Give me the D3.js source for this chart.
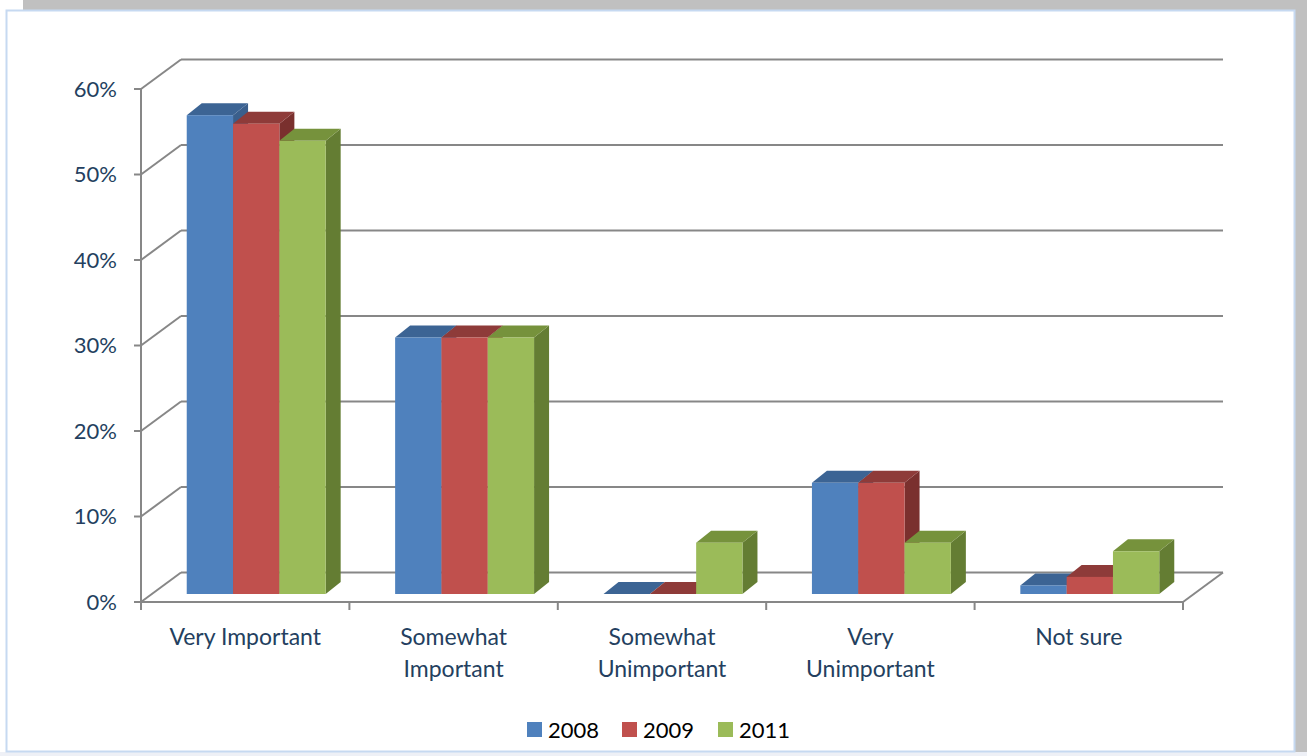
<!DOCTYPE html>
<html><head><meta charset="utf-8">
<script src="https://cdn.jsdelivr.net/npm/d3@7"></script>
<style>html,body{margin:0;padding:0;background:#fff;}svg{display:block;}</style>
</head><body>
<svg id="c" width="1307" height="756"></svg>
<script>
const categories = [["Very Important"], ["Somewhat", "Important"], ["Somewhat", "Unimportant"], ["Very", "Unimportant"], ["Not sure"]];
const seriesNames = ["2008", "2009", "2011"];
const values2008 = [0.56, 0.30, 0.00, 0.13, 0.01];
const values2009 = [0.55, 0.30, 0.00, 0.13, 0.02];
const values2011 = [0.53, 0.30, 0.06, 0.06, 0.05];
const yTicks = [0, 0.1, 0.2, 0.3, 0.4, 0.5, 0.6];

const colors = {
  "2008": {front: "#4F81BD", top: "#3C6494", side: "#3A5F8C"},
  "2009": {front: "#C0504D", top: "#8E3B39", side: "#7A302E"},
  "2011": {front: "#9BBB59", top: "#76923C", side: "#647D33"}
};
const seriesVals = {"2008": values2008, "2009": values2009, "2011": values2011};

const svg = d3.select("#c");
const font = "Lato, 'Open Sans', sans-serif";
// background / shadow
svg.append("rect").attr("x", 23).attr("y", 0).attr("width", 1284).attr("height", 756).attr("fill", "#c0c0c0");
svg.append("rect").attr("x", 0).attr("y", 752).attr("width", 1307).attr("height", 4).attr("fill", "#eef0f6");
svg.append("rect").attr("x", 6.5).attr("y", 10.5).attr("width", 1288).attr("height", 741)
  .attr("fill", "#fff").attr("stroke", "#c6d9f1").attr("stroke-width", 2);

const x0 = d3.scaleBand().domain(d3.range(categories.length)).range([141, 1183]).padding(0);
const cat = x0.bandwidth();
const bw = cat / 4.5;
const x1 = d3.scaleBand().domain(seriesNames).range([bw * 0.75, cat - bw * 0.75]).padding(0);
const y = d3.scaleLinear().domain([0, 0.6]).range([602, 89]);

const wallDx = 40, wallDy = -29.5;
const barDx = 11, barDy = -8;   // front face offset into depth
const depDx = 15, depDy = -12;  // bar depth
const gridColor = "#878787";

const g = svg.append("g");
yTicks.forEach(t => {
  const yf = y(t);
  g.append("line").attr("x1", 141 + wallDx).attr("x2", 1183 + wallDx)
    .attr("y1", yf + wallDy).attr("y2", yf + wallDy)
    .attr("stroke", gridColor).attr("stroke-width", 2);
  g.append("line").attr("x1", 141).attr("y1", yf).attr("x2", 141 + wallDx).attr("y2", yf + wallDy)
    .attr("stroke", gridColor).attr("stroke-width", 2);
  g.append("line").attr("x1", 134).attr("x2", 141).attr("y1", yf).attr("y2", yf)
    .attr("stroke", gridColor).attr("stroke-width", 2);
});
g.append("line").attr("x1", 141).attr("x2", 141).attr("y1", y(0.6)).attr("y2", y(0))
  .attr("stroke", gridColor).attr("stroke-width", 2);
g.append("line").attr("x1", 141).attr("x2", 1183).attr("y1", y(0)).attr("y2", y(0))
  .attr("stroke", gridColor).attr("stroke-width", 2);
g.append("line").attr("x1", 1183).attr("y1", y(0)).attr("x2", 1183 + wallDx).attr("y2", y(0) + wallDy)
  .attr("stroke", gridColor).attr("stroke-width", 2);
d3.range(categories.length + 1).forEach(i => {
  const xx = 141 + i * cat;
  g.append("line").attr("x1", xx).attr("x2", xx).attr("y1", y(0)).attr("y2", y(0) + 8)
    .attr("stroke", gridColor).attr("stroke-width", 2);
});

svg.append("g").selectAll("text").data(yTicks).join("text")
  .attr("x", 117).attr("y", d => y(d)).attr("dy", "0.35em").attr("text-anchor", "end")
  .attr("font-family", font).attr("font-size", 22).attr("fill", "#243F60")
  .text(d => Math.round(d * 100) + "%");

const cl = svg.append("g");
categories.forEach((lines, i) => {
  const cx = x0(i) + cat / 2;
  const t = cl.append("text").attr("x", cx).attr("text-anchor", "middle")
    .attr("font-family", font).attr("font-size", 23).attr("fill", "#243F60");
  lines.forEach((ln, j) => {
    t.append("tspan").attr("x", cx).attr("y", 645 + j * 32).text(ln);
  });
});

const bars = svg.append("g");
categories.forEach((c, i) => {
  seriesNames.forEach(s => {
    const v = seriesVals[s][i];
    const xl = x0(i) + x1(s) + barDx;
    const xr = xl + x1.bandwidth();
    const yt = y(v) + barDy;
    const yb = y(0) + barDy;
    const col = colors[s];
    if (v > 0) {
      bars.append("polygon")
        .attr("points", [[xr, yt], [xr + depDx, yt + depDy], [xr + depDx, yb + depDy], [xr, yb]].map(p => p.join(",")).join(" "))
        .attr("fill", col.side);
    }
    bars.append("polygon")
      .attr("points", [[xl, yt], [xr, yt], [xr + depDx, yt + depDy], [xl + depDx, yt + depDy]].map(p => p.join(",")).join(" "))
      .attr("fill", col.top);
    if (v > 0) {
      bars.append("rect").attr("x", xl).attr("y", yt).attr("width", xr - xl).attr("height", yb - yt)
        .attr("fill", col.front);
    }
  });
});

const leg = svg.append("g");
const legX = [527, 622, 718];
seriesNames.forEach((s, i) => {
  leg.append("rect").attr("x", legX[i]).attr("y", 722).attr("width", 15).attr("height", 15).attr("fill", colors[s].front);
  leg.append("text").attr("x", legX[i] + 21).attr("y", 730).attr("dy", "0.35em")
    .attr("font-family", font).attr("font-size", 22).attr("fill", "#000").text(s);
});
</script>
</body></html>
